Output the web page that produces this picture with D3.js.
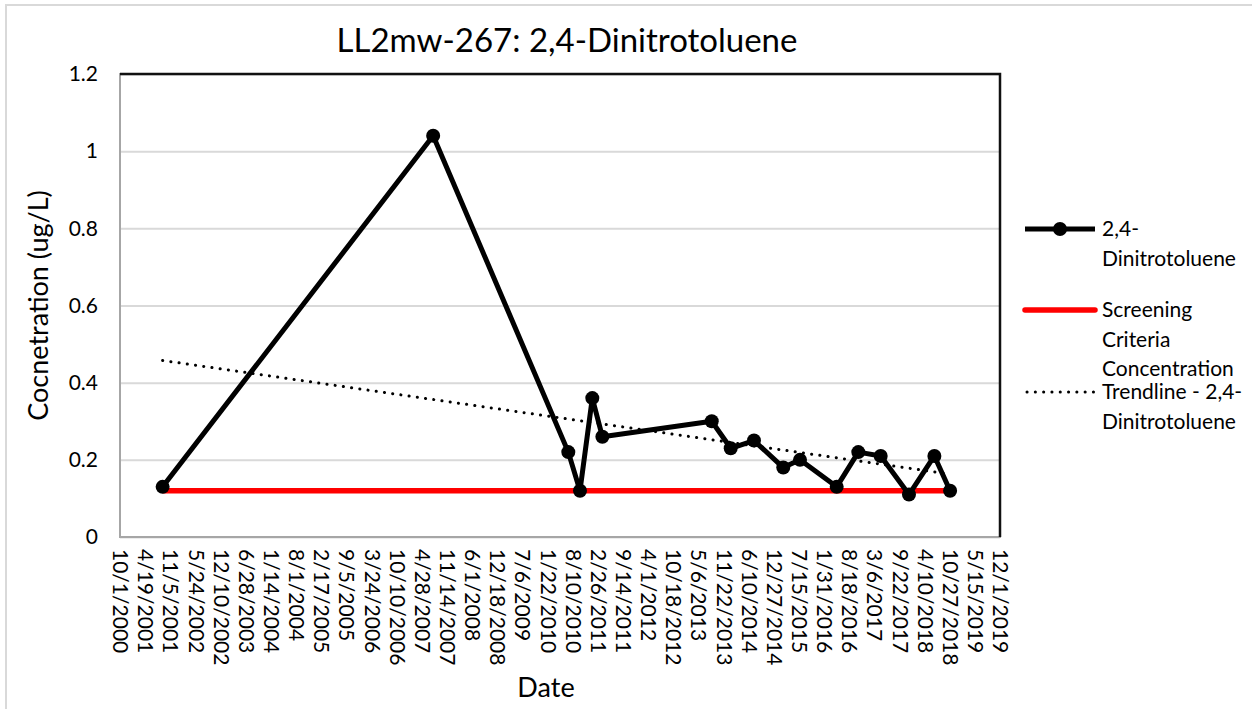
<!DOCTYPE html>
<html>
<head>
<meta charset="utf-8">
<script src="https://cdn.jsdelivr.net/npm/d3@7"></script>
<style>
body{margin:0;background:#fff;}
svg{display:block;font-family:Lato,"Open Sans",sans-serif;}
</style>
</head>
<body>
<svg></svg>
<script>
// sample data
var sampleDates=['2001-09-05','2007-07-28','2010-07-07','2010-10-08','2011-01-14',
	'2011-04-04','2013-08-21','2014-01-19','2014-07-23','2015-03-13','2015-07-24',
	'2016-05-11','2016-10-30','2017-04-26','2017-12-07','2018-06-27','2018-10-30'];
var concentrations=[0.13,1.04,0.22,0.12,0.36,0.26,0.30,0.23,0.25,0.18,0.20,0.13,0.22,0.21,0.11,0.21,0.12];
var screeningValue=0.12;
var yTicks=[0,0.2,0.4,0.6,0.8,1,1.2];
var xStart='2000-10-01', xEnd='2019-12-01', tickStepDays=200;
var legendLabels=[['2,4-','Dinitrotoluene'],['Screening','Criteria','Concentration'],['Trendline - 2,4-','Dinitrotoluene']];

var width=1252;
var height=709;
var plotL=120, plotR=1000, plotT=74, plotB=537;

var parse=d3.utcParse('%Y-%m-%d');
var data=sampleDates.map(function(d,i){return {date:parse(d),value:concentrations[i]};});
var t0=parse(xStart), t1=parse(xEnd);

var xTicks=[];
for (var d=t0;d<=t1;d=d3.utcDay.offset(d,tickStepDays)) xTicks.push(d);

var xScale=d3.scaleUtc()
			.domain([t0,t1])
			.range([plotL,plotR]);
var yScale=d3.scaleLinear()
			.domain([0,1.2])
			.range([plotB,plotT]);

var svg=d3.select('svg')
	.attr('width',width)
	.attr('height',height);

// outer chart border
svg.append('rect')
	.attr('x',6).attr('y',5)
	.attr('width',1400).attr('height',900)
	.attr('fill','none')
	.attr('stroke','#d9d9d9')
	.attr('stroke-width',2);

// gridlines
svg.append('g')
	.attr('transform','translate('+plotL+',0)')
	.call(d3.axisLeft(yScale).tickValues(yTicks).tickSize(-(plotR-plotL)).tickFormat(''))
	.call(g=>g.select('.domain').remove())
	.call(g=>g.selectAll('line').attr('stroke','#d9d9d9').attr('stroke-width',2));

// plot border
svg.append('rect')
	.attr('x',plotL).attr('y',plotT)
	.attr('width',plotR-plotL).attr('height',plotB-plotT)
	.attr('fill','none')
	.attr('stroke','#a6a6a6')
	.attr('stroke-width',2);
svg.append('path')
	.attr('d','M'+plotL+','+plotT+'H'+plotR+'V'+plotB)
	.attr('fill','none')
	.attr('stroke','#111')
	.attr('stroke-width',2.5);

// y axis labels
svg.append('g')
	.attr('transform','translate('+plotL+',0)')
	.call(d3.axisLeft(yScale).tickValues(yTicks).tickSize(0).tickPadding(22).tickFormat(d=>d))
	.call(g=>g.select('.domain').remove())
	.selectAll('text')
		.attr('fill','#000')
		.style('font-size','21px')
		.style('font-family','Lato');

// x axis labels (rotated)
var xAxis=svg.append('g')
	.attr('transform','translate(0,'+plotB+')')
	.call(d3.axisBottom(xScale).tickValues(xTicks).tickSize(0).tickFormat(d3.utcFormat('%-m/%-d/%Y')));
xAxis.select('.domain').remove();
xAxis.selectAll('text')
	.attr('fill','#000')
	.style('font-size','21px')
	.style('font-family','Lato')
	.attr('text-anchor','start')
	.attr('transform','rotate(90)')
	.attr('x',12)
	.attr('y',0)
	.attr('dy','0.35em');

// screening criteria line
svg.append('line')
	.attr('x1',xScale(data[0].date))
	.attr('x2',xScale(data[data.length-1].date))
	.attr('y1',yScale(screeningValue))
	.attr('y2',yScale(screeningValue))
	.attr('stroke','#ff0000')
	.attr('stroke-width',5.5);

// linear trendline (least squares)
var mx=d3.mean(data,r=>+r.date), my=d3.mean(data,r=>r.value);
var sxy=d3.sum(data,r=>(+r.date-mx)*(r.value-my));
var sxx=d3.sum(data,r=>(+r.date-mx)*(+r.date-mx));
var slope=sxy/sxx;
var trend=[data[0].date,data[data.length-1].date].map(d=>({date:d,value:my+slope*(+d-mx)}));

var line=d3.line()
	.x(r=>xScale(r.date))
	.y(r=>yScale(r.value));

svg.append('path')
	.datum(data)
	.attr('d',line)
	.attr('fill','none')
	.attr('stroke','#000')
	.attr('stroke-width',5)
	.attr('stroke-linejoin','round');

svg.selectAll('circle.pt')
	.data(data)
	.enter()
	.append('circle')
		.attr('class','pt')
		.attr('cx',r=>xScale(r.date))
		.attr('cy',r=>yScale(r.value))
		.attr('r',7)
		.attr('fill','#000');

svg.append('path')
	.datum(trend)
	.attr('d',line)
	.attr('fill','none')
	.attr('stroke','#000')
	.attr('stroke-width',3)
	.attr('stroke-linecap','round')
	.attr('stroke-dasharray','0.1 8.2');

// titles
svg.append('text')
	.attr('x',567)
	.attr('y',52)
	.style('text-anchor','middle')
	.style('font-size','33px')
	.text('LL2mw-267: 2,4-Dinitrotoluene');

svg.append('text')
	.attr('x',546)
	.attr('y',697)
	.style('text-anchor','middle')
	.style('font-size','27px')
	.text('Date');

svg.append('text')
	.attr('transform','rotate(-90)')
	.attr('x',-(plotT+plotB)/2)
	.attr('y',48)
	.style('text-anchor','middle')
	.style('font-size','27px')
	.text('Cocnetration (ug/L)');

// legend
var lg=svg.append('g');
var lx1=1025, lx2=1095, tx=1102;
var entryY=[229,310,392];
lg.append('line').attr('x1',lx1).attr('x2',lx2).attr('y1',entryY[0]).attr('y2',entryY[0])
	.attr('stroke','#000').attr('stroke-width',5);
lg.append('circle').attr('cx',(lx1+lx2)/2).attr('cy',entryY[0]).attr('r',7).attr('fill','#000');
lg.append('line').attr('x1',lx1).attr('x2',lx2).attr('y1',entryY[1]).attr('y2',entryY[1])
	.attr('stroke','#ff0000').attr('stroke-width',5.5).attr('stroke-linecap','round');
lg.append('line').attr('x1',lx1+2).attr('x2',lx2).attr('y1',entryY[2]).attr('y2',entryY[2])
	.attr('stroke','#000').attr('stroke-width',3).attr('stroke-linecap','round')
	.attr('stroke-dasharray','0.1 8.2');

legendLabels.forEach(function(lines,i){
	lines.forEach(function(s,j){
		lg.append('text')
			.attr('x',tx)
			.attr('y',entryY[i]+j*29.5)
			.attr('dy','0.35em')
			.style('font-size','21px')
			.text(s);
	});
});
</script>
</body>
</html>
